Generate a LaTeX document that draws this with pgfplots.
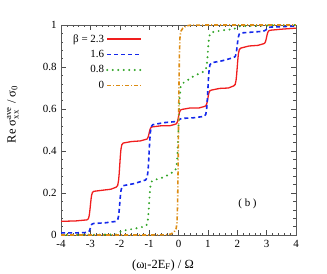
\documentclass[border=0pt]{standalone}
\usepackage{pgfplots}
\pgfplotsset{compat=1.18}
\usepackage{amsmath}
\usepackage{fontspec}
\setmainfont{Liberation Serif}
\definecolor{cred}{RGB}{240,30,30}
\definecolor{cblue}{RGB}{20,40,235}
\definecolor{cgreen}{RGB}{50,165,40}
\definecolor{corange}{RGB}{220,140,20}
\pgfplotsset{longleg/.style={legend image code/.code={\draw[##1] (3bp,0bp) -- (37bp,0bp);}}}
\begin{document}
\begin{tikzpicture}
\useasboundingbox (-61bp,-39bp) rectangle (266bp,235bp);
\begin{axis}[
  scale only axis,
  width=235bp, height=210bp,
  xmin=-4, xmax=4, ymin=0, ymax=1,
  xtick={-4,-3,...,4},
  ytick={0,0.2,0.4,0.6,0.8,1},
  yticklabels={0,0.2,0.4,0.6,0.8,1},
  xticklabels={-4,-3,-2,-1,0,1,2,3,4},
  minor x tick num=4, minor y tick num=4,
  tick align=inside,
  major tick length=5bp, minor tick length=2.5bp,
  axis line style={black!65, line width=0.8pt},
  every tick/.style={black!70, line width=0.5pt},
  tick label style={font=\fontsize{11}{13}\selectfont},
  xticklabel style={yshift=-2bp},
  yticklabel style={xshift=-1bp},
  xlabel={(ω\textsubscript{l}-2E\textsubscript{F}) / Ω},
  ylabel={Re $\text{σ}^{\text{ave}}_{\text{xx}}$ / σ\textsubscript{0}},
  label style={font=\fontsize{12.5}{14}\selectfont},
  xlabel style={at={(axis description cs:0.434,-0.143)}, anchor=center},
  ylabel style={at={(axis description cs:-0.205,0.575)}, anchor=center},
  legend style={draw=none, fill=none, at={(axis description cs:0.03,0.975)}, anchor=north west,
    cells={anchor=east}, font=\fontsize{11}{12}\selectfont, row sep=2.6bp},
  legend plot pos=right,
]
\addplot[cred, line width=1.3pt, no marks, longleg] coordinates {
(-4,0.065) (-3.5,0.067) (-3.12,0.072) (-3.07,0.077) (-3.04,0.092) (-3.02,0.113) (-3,0.140) (-2.98,0.167) (-2.96,0.188) (-2.93,0.203) (-2.88,0.208) (-2.6,0.213) (-2.3,0.218) (-2.12,0.228)
(-2.07,0.236) (-2.04,0.26) (-2.02,0.291) (-2,0.333) (-1.98,0.375) (-1.96,0.407) (-1.93,0.43) (-1.88,0.438) (-1.6,0.445) (-1.3,0.448) (-1.12,0.455)
(-1.07,0.457) (-1.04,0.464) (-1.02,0.473) (-1,0.485) (-0.98,0.497) (-0.96,0.506) (-0.93,0.513) (-0.88,0.515) (-0.6,0.52) (-0.3,0.52) (-0.12,0.527)
(-0.07,0.53) (-0.04,0.538) (-0.02,0.548) (0,0.562) (0.02,0.577) (0.04,0.587) (0.07,0.595) (0.12,0.598) (0.4,0.605) (0.7,0.605) (0.88,0.612)
(0.93,0.615) (0.96,0.624) (0.98,0.635) (1,0.651) (1.02,0.667) (1.04,0.678) (1.07,0.687) (1.12,0.69) (1.4,0.698) (1.7,0.7) (1.88,0.71)
(1.93,0.717) (1.96,0.737) (1.98,0.764) (2,0.8) (2.02,0.836) (2.04,0.863) (2.07,0.883) (2.12,0.89) (2.4,0.9) (2.7,0.903) (2.88,0.91)
(2.93,0.913) (2.96,0.92) (2.98,0.93) (3,0.943) (3.02,0.955) (3.04,0.965) (3.07,0.972) (3.12,0.975) (3.5,0.98) (4,0.985)
};
\addlegendentry{β = 2.3}
\addplot[cblue, line width=1.6pt, dash pattern=on 4bp off 3bp, no marks, longleg] coordinates {
(-4,0.01) (-3.5,0.01) (-3.12,0.012)
(-3.07,0.014) (-3.04,0.018) (-3.02,0.025) (-3,0.034) (-2.98,0.042) (-2.96,0.049) (-2.93,0.053) (-2.88,0.055) (-2.5,0.058) (-2.12,0.065)
(-2.07,0.072) (-2.04,0.091) (-2.02,0.116) (-2,0.15) (-1.98,0.184) (-1.96,0.209) (-1.93,0.228) (-1.88,0.235) (-1.5,0.245) (-1.12,0.262)
(-1.07,0.273) (-1.04,0.301) (-1.02,0.341) (-1,0.394) (-0.98,0.446) (-0.96,0.486) (-0.93,0.515) (-0.88,0.525) (-0.5,0.535) (-0.1,0.54)
(0,0.548) (0.1,0.555) (0.5,0.558) (0.88,0.565)
(0.93,0.575) (0.96,0.603) (0.98,0.642) (1,0.693) (1.02,0.744) (1.04,0.782) (1.07,0.81) (1.12,0.82) (1.5,0.83) (1.88,0.845)
(1.93,0.85) (1.96,0.863) (1.98,0.88) (2,0.904) (2.02,0.927) (2.04,0.944) (2.07,0.957) (2.12,0.962) (2.5,0.966) (2.88,0.97)
(2.96,0.975) (3,0.98) (3.04,0.986) (3.12,0.99) (4,0.995)
};
\addlegendentry{1.6}
\addplot[cgreen, line width=2.2pt, dash pattern=on 0pt off 5.5bp, line cap=round, no marks, longleg] coordinates {
(-4,0.0) (-3,0.001) (-2.12,0.003)
(-2.04,0.006) (-2,0.012) (-1.96,0.018) (-1.88,0.021) (-1.5,0.03) (-1.12,0.042)
(-1.07,0.051) (-1.04,0.075) (-1.02,0.107) (-1,0.151) (-0.98,0.195) (-0.96,0.227) (-0.93,0.251) (-0.88,0.26) (-0.5,0.275) (-0.12,0.305)
(-0.07,0.322) (-0.04,0.367) (-0.02,0.43) (0,0.512) (0.02,0.595) (0.04,0.658) (0.07,0.703) (0.12,0.72) (0.5,0.755) (0.88,0.78)
(0.93,0.787) (0.96,0.808) (0.98,0.836) (1,0.872) (1.02,0.909) (1.04,0.937) (1.07,0.958) (1.12,0.965) (1.5,0.975) (1.88,0.98)
(2,0.99) (2.12,0.995) (3,0.998) (4,1.0)
};
\addlegendentry{0.8}
\addplot[corange, line width=1.6pt, dash pattern=on 4bp off 2bp on 1bp off 2bp, no marks, longleg] coordinates {
(-4,0) (-1,0) (-0.4,0.001) (-0.25,0.005) (-0.15,0.015) (-0.08,0.03) (-0.05,0.06) (-0.03,0.15) (-0.015,0.3) (0,0.5) (0.015,0.7) (0.03,0.85) (0.05,0.94) (0.08,0.97) (0.15,0.985) (0.25,0.995) (0.4,0.999) (1,1) (4,1)
};
\addlegendentry{0}
\node[font=\fontsize{11}{13}\selectfont] at (axis cs:2.35,0.15) {( b )};
\end{axis}
\end{tikzpicture}
\end{document}
